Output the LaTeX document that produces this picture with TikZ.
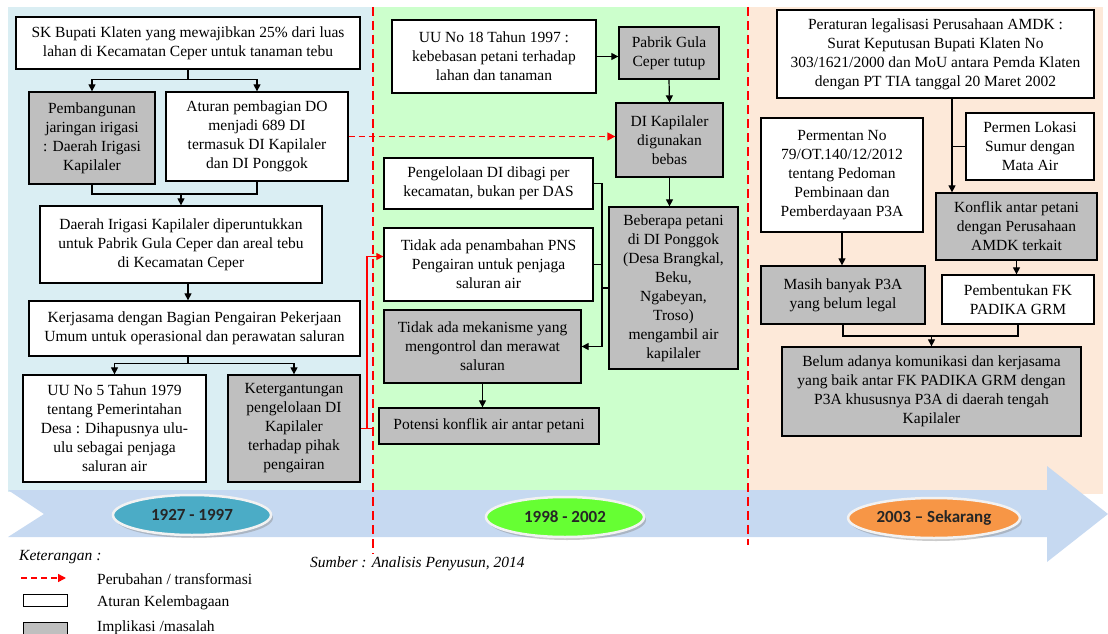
\documentclass[tikz,border=0pt]{standalone}
\usepackage{fontspec}
\setmainfont{Liberation Serif}
\newfontfamily\calibri{Carlito}
\usetikzlibrary{arrows.meta,shadows,calc,shapes.geometric}
\definecolor{panelblue}{RGB}{218,238,243}
\definecolor{panelgreen}{RGB}{204,255,204}
\definecolor{panelpeach}{RGB}{253,233,217}
\definecolor{bandblue}{RGB}{198,217,241}
\definecolor{boxgray}{RGB}{191,191,191}
\definecolor{elteal}{RGB}{75,172,198}
\definecolor{elgreen}{RGB}{102,255,51}
\definecolor{elorange}{RGB}{247,150,70}
\definecolor{elborder}{RGB}{242,242,242}
\begin{document}
\begin{tikzpicture}[x=1pt,y=-1pt,
  txt/.style={font=\fontsize{15.5}{19}\selectfont},
  box/.style={txt, draw=black, line width=1.3pt, align=center, inner sep=2pt,
    drop shadow={shadow xshift=1pt, shadow yshift=-1pt, opacity=.35}},
  wbox/.style={box, fill=white},
  gbox/.style={box, fill=boxgray},
  arr/.style={line width=1.2pt, -{Triangle[length=7pt,width=7pt]}},
  plain/.style={line width=1.2pt},
  panelline/.style={red, line width=1.8pt, dash pattern=on 9pt off 5pt},
  redarrow/.style={red, line width=1.4pt, dash pattern=on 6pt off 4pt, -{Triangle[length=8pt,width=8pt]}},
  redline/.style={red, line width=1.2pt},
  redlinearr/.style={redline, -{Triangle[length=7pt,width=7pt]}},
  period/.style={ellipse, draw=elborder, line width=2.5pt, minimum width=158pt, minimum height=40pt,
    font=\calibri\bfseries\fontsize{17}{20}\selectfont, text=black!85,
    drop shadow={shadow xshift=2pt, shadow yshift=-3pt, opacity=.4}},
  legtext/.style={txt, anchor=west, inner sep=0pt},
]
\useasboundingbox (0,0) rectangle (1108,634);
% panels
\fill[panelblue] (8,7) rectangle (373,492);
\fill[panelgreen] (373,7) rectangle (748,492);
\fill[panelpeach] (748,7) rectangle (1103,494);
% timeline band
\fill[bandblue] (8,490) -- (1047,490) -- (1047,466) -- (1108,514) -- (1047,562) -- (1047,537)
  -- (8,537) -- (44,514) -- cycle;
% period dividers
\draw[panelline] (373,7) -- (373,554);
\draw[panelline] (748,7) -- (748,545);
% periods
\node[period, fill=elteal] (p1) at (192,515) {1927 - 1997};
\node[period, fill=elgreen] (p2) at (565,517) {1998 - 2002};
\node[period, fill=elorange] (p3) at (934,518) {2003 – Sekarang};

% ---------- 1927-1997 ----------
\node[wbox, minimum width=344pt, minimum height=52pt] (A) at (188,43)
  {SK Bupati Klaten yang mewajibkan 25\% dari luas\\lahan di Kecamatan Ceper untuk tanaman tebu};
\node[gbox, minimum width=126pt, minimum height=92pt] (B) at (92,138)
  {Pembangunan\\jaringan irigasi\\: Daerah Irigasi\\Kapilaler};
\node[wbox, minimum width=182pt, minimum height=89pt] (C) at (257,136.5)
  {Aturan pembagian DO\\menjadi 689 DI\\termasuk DI Kapilaler\\dan DI Ponggok};
\node[wbox, minimum width=282pt, minimum height=77pt] (D) at (181,244.5)
  {Daerah Irigasi Kapilaler diperuntukkan\\untuk Pabrik Gula Ceper dan areal tebu\\di Kecamatan Ceper};
\node[wbox, minimum width=331pt, minimum height=55pt] (E) at (194.5,328.5)
  {Kerjasama dengan Bagian Pengairan Pekerjaan\\Umum untuk operasional dan perawatan saluran};
\node[wbox, minimum width=183pt, minimum height=107pt] (F) at (114.5,428.5)
  {UU No 5 Tahun 1979\\tentang Pemerintahan\\Desa : Dihapusnya ulu-\\ulu sebagai penjaga\\saluran air};
\node[gbox, minimum width=132pt, minimum height=107pt] (G) at (294,428.5)
  {Ketergantungan\\pengelolaan DI\\Kapilaler\\terhadap pihak\\pengairan};

% ---------- 1998-2002 ----------
\node[wbox, minimum width=204pt, minimum height=73pt] (H) at (494,56.5)
  {UU No 18 Tahun 1997 :\\kebebasan petani terhadap\\lahan dan tanaman};
\node[gbox, minimum width=100pt, minimum height=52pt] (I) at (669,53)
  {Pabrik Gula\\Ceper tutup};
\node[gbox, minimum width=107pt, minimum height=74pt] (J) at (669.5,140)
  {DI Kapilaler\\digunakan\\bebas};
\node[gbox, minimum width=129pt, minimum height=162pt] (K) at (673.5,288)
  {Beberapa petani\\di DI Ponggok\\(Desa Brangkal,\\Beku,\\Ngabeyan,\\Troso)\\mengambil air\\kapilaler};
\node[wbox, minimum width=209pt, minimum height=51pt] (L) at (488.5,183.5)
  {Pengelolaan DI dibagi per\\kecamatan, bukan per DAS};
\node[wbox, minimum width=209pt, minimum height=73pt] (M) at (488.5,264.5)
  {Tidak ada penambahan PNS\\Pengairan untuk penjaga\\saluran air};
\node[gbox, minimum width=197pt, minimum height=73pt] (N) at (482.5,346.5)
  {Tidak ada mekanisme yang\\mengontrol dan merawat\\saluran};
\node[gbox, minimum width=220pt, minimum height=36pt] (O) at (489,426)
  {Potensi konflik air antar petani};

% ---------- 2003-sekarang ----------
\node[wbox, minimum width=317pt, minimum height=88pt] (P) at (935.5,54)
  {Peraturan legalisasi Perusahaan AMDK :\\Surat Keputusan Bupati Klaten No\\303/1621/2000 dan MoU antara Pemda Klaten\\dengan PT TIA tanggal 20 Maret 2002};
\node[wbox, minimum width=128pt, minimum height=67pt] (R) at (1030,146.5)
  {Permen Lokasi\\Sumur dengan\\Mata Air};
\node[wbox, minimum width=162pt, minimum height=114pt] (S) at (842,175)
  {Permentan No\\79/OT.140/12/2012\\tentang Pedoman\\Pembinaan dan\\Pemberdayaan P3A};
\node[gbox, minimum width=161pt, minimum height=67pt] (Q) at (1016.5,226.5)
  {Konflik antar petani\\dengan Perusahaan\\AMDK terkait};
\node[gbox, minimum width=164pt, minimum height=58pt] (T) at (843,295)
  {Masih banyak P3A\\yang belum legal};
\node[wbox, minimum width=152pt, minimum height=49pt] (U) at (1018,299.5)
  {Pembentukan FK\\PADIKA GRM};
\node[gbox, minimum width=299pt, minimum height=89pt] (V) at (931.5,391.5)
  {Belum adanya komunikasi dan kerjasama\\yang baik antar FK PADIKA GRM dengan\\P3A khususnya P3A di daerah tengah\\Kapilaler};

% ---------- connectors: 1927-1997 ----------
\draw[arr] (A.south) -- ++(0,10) -| (B.north);
\draw[arr] (A.south) -- ++(0,10) -| (C.north);
\coordinate (bcm) at (181,194);
\draw[plain] (B.south) |- (bcm) -| (C.south);
\draw[arr] (bcm) -- (D.north);
\draw[arr] (D.south -| A.south) -- (E.north -| A.south);
\draw[arr] (E.south -| A.south) -- ++(0,7) -| (F.north);
\draw[arr] (E.south -| A.south) -- ++(0,7) -| (G.north);
% red: G -> M
\coordinate (gr) at (367,428.5);
\draw[redline] (G.east) -- ++(13,0);
\draw[redlinearr] (gr) |- ([yshift=8pt]M.west);
% red dashed: C -> J
\draw[redarrow] (C.east) -- (C.east -| J.west);

% ---------- connectors: 1998-2002 ----------
\draw[arr] (H.east) -- (H.east -| I.west);
\draw[arr] (I.south) -- (J.north);
\draw[arr] (J.south) -- (J.south |- K.north);
\coordinate (brk) at (602,346.5);
\draw[arr] (L.east) -| (brk) -- (N.east);
\draw[plain] (M.east) -- (M.east -| brk);
\draw[plain] (K.west) -- (K.west -| brk);
\draw[arr] (N.south) -- (N.south |- O.north);

% ---------- connectors: 2003-sekarang ----------
\coordinate (pqx) at ([xshift=16.5pt]P.south);
\draw[arr] (pqx) -- (pqx |- Q.north);
\draw[plain] (R.west) -- (R.west -| pqx);
\draw[arr] (S.south) -- (S.south |- T.north);
\draw[arr] (Q.south) -- (Q.south |- U.north);
\coordinate (tuv) at (931.5,336);
\draw[plain] (T.south) |- (tuv) -| (U.south);
\draw[arr] (tuv) -- (V.north);

% ---------- legend ----------
\node[legtext, font=\itshape\fontsize{15.5}{19}\selectfont] (ket) at (19,557) {Keterangan :};
\coordinate (la1) at (21,578);
\coordinate (la2) at (66,578);
\draw[redarrow] (la1) -- (la2);
\node[legtext] (lt1) at (97,579) {Perubahan / transformasi};
\node[draw=black, line width=1pt, fill=white, minimum width=44pt, minimum height=12pt, inner sep=0pt] (lw) at (45,600) {};
\node[legtext] (lt2) at (97,603) {Aturan Kelembagaan};
\node[draw=black, line width=1pt, fill=boxgray, minimum width=44pt, minimum height=12pt, inner sep=0pt] (lg) at (45,628) {};
\node[legtext] (lt3) at (97,628) {Implikasi /masalah};
\node[legtext, font=\itshape\fontsize{15.5}{19}\selectfont] (src) at (310,564) {Sumber : Analisis Penyusun, 2014};
\end{tikzpicture}
\end{document}
